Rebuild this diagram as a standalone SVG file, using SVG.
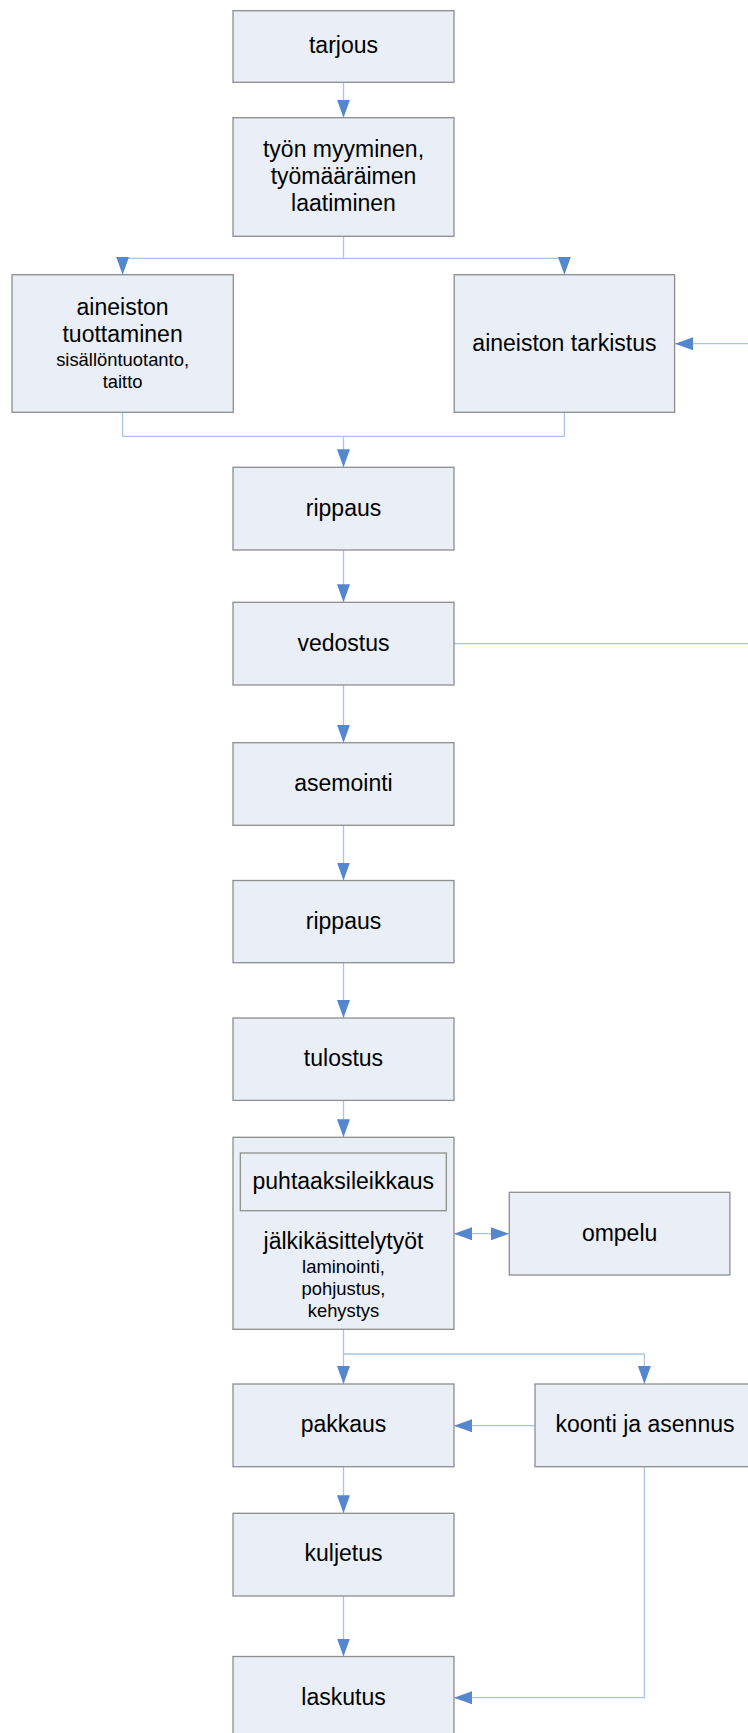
<svg xmlns="http://www.w3.org/2000/svg" width="748" height="1733" viewBox="0 0 748 1733">
<style>
.box{fill:#E9EEF7;stroke:#8E8E8E;stroke-width:1.3}
.t{font-family:"Liberation Sans",Arial,sans-serif;font-size:23px;fill:#000;text-anchor:middle}
.s{font-family:"Liberation Sans",Arial,sans-serif;font-size:18.4px;fill:#000;text-anchor:middle}
.c{fill:none;stroke:#A9C4EA;stroke-width:1.3}
.a{marker-end:url(#ah)}
</style>
<defs>
<marker id="ah" markerWidth="19" markerHeight="14" refX="18" refY="7" orient="auto-start-reverse" markerUnits="userSpaceOnUse">
<path d="M0,0.5 L18,7 L0,13.5 Z" fill="#5587CE"/>
</marker>
</defs>
<rect width="748" height="1733" fill="#fff"/>
<g id="connectors">
<path class="c a" d="M343.5,82.3 V117.7"/>
<path class="c" d="M343.5,236.3 V258.3 M122.6,258.3 H564.4"/>
<path class="c a" d="M122.6,258.3 V274.7"/>
<path class="c a" d="M564.4,258.3 V274.7"/>
<path class="c a" d="M748,343.7 H675"/>
<path class="c" d="M122.6,412.3 V436.3 H564.4 V412.3"/>
<path class="c a" d="M343.5,436.3 V467.3"/>
<path class="c a" d="M343.5,550 V602.3"/>
<path class="c" d="M454,643.7 H748"/>
<path class="c a" d="M343.5,685 V742.7"/>
<path class="c a" d="M343.5,825.3 V880.5"/>
<path class="c a" d="M343.5,962.7 V1018"/>
<path class="c a" d="M343.5,1100.4 V1137.3"/>
<path class="c" d="M454,1233.7 H509" style="marker-start:url(#ah);marker-end:url(#ah)"/>
<path class="c" d="M343.5,1329.3 V1354 H644.4"/>
<path class="c a" d="M343.5,1354 V1384"/>
<path class="c a" d="M644.4,1354 V1384"/>
<path class="c a" d="M535,1425.7 H454"/>
<path class="c a" d="M343.5,1466.7 V1513.3"/>
<path class="c a" d="M343.5,1596 V1656.5"/>
<path class="c a" d="M644.4,1466.7 V1697.7 H454"/>
</g>
<g id="n-tarjous">
<rect class="box" x="233" y="10.7" width="221" height="71.6"/>
<text class="t" x="343.5" y="53.3">tarjous</text>
</g>
<g id="n-tyon">
<rect class="box" x="233" y="117.7" width="221" height="118.6"/>
<text class="t" x="343.5" y="156.7">työn myyminen,</text>
<text class="t" x="343.5" y="183.7">työmääräimen</text>
<text class="t" x="343.5" y="210.7">laatiminen</text>
</g>
<g id="n-tuottaminen">
<rect class="box" x="12" y="274.7" width="221.3" height="137.6"/>
<text class="t" x="122.6" y="315">aineiston</text>
<text class="t" x="122.6" y="342">tuottaminen</text>
<text class="s" x="122.6" y="366">sisällöntuotanto,</text>
<text class="s" x="122.6" y="387.7">taitto</text>
</g>
<g id="n-tarkistus">
<rect class="box" x="454.2" y="274.7" width="220.4" height="137.6"/>
<text class="t" x="564.4" y="350.7">aineiston tarkistus</text>
</g>
<g id="n-rippaus1">
<rect class="box" x="233" y="467.3" width="221" height="82.7"/>
<text class="t" x="343.5" y="516">rippaus</text>
</g>
<g id="n-vedostus">
<rect class="box" x="233" y="602.3" width="221" height="82.7"/>
<text class="t" x="343.5" y="650.5">vedostus</text>
</g>
<g id="n-asemointi">
<rect class="box" x="233" y="742.7" width="221" height="82.6"/>
<text class="t" x="343.5" y="790.8">asemointi</text>
</g>
<g id="n-rippaus2">
<rect class="box" x="233" y="880.5" width="221" height="82.2"/>
<text class="t" x="343.5" y="928.6">rippaus</text>
</g>
<g id="n-tulostus">
<rect class="box" x="233" y="1018" width="221" height="82.4"/>
<text class="t" x="343.5" y="1066">tulostus</text>
</g>
<g id="n-jalki">
<rect class="box" x="233" y="1137.3" width="221" height="192"/>
<rect class="box" x="240.3" y="1153" width="206" height="57.7"/>
<text class="t" x="343.3" y="1188.5">puhtaaksileikkaus</text>
<text class="t" x="343.5" y="1249">jälkikäsittelytyöt</text>
<text class="s" x="343.5" y="1272.7">laminointi,</text>
<text class="s" x="343.5" y="1294.7">pohjustus,</text>
<text class="s" x="343.5" y="1316.5">kehystys</text>
</g>
<g id="n-ompelu">
<rect class="box" x="509.3" y="1192.3" width="220.6" height="82.7"/>
<text class="t" x="619.6" y="1240.7">ompelu</text>
</g>
<g id="n-pakkaus">
<rect class="box" x="233" y="1384" width="221" height="82.7"/>
<text class="t" x="343.5" y="1432.2">pakkaus</text>
</g>
<g id="n-koonti">
<rect class="box" x="535" y="1384" width="221" height="82.7"/>
<text class="t" x="645" y="1432.2">koonti ja asennus</text>
</g>
<g id="n-kuljetus">
<rect class="box" x="233" y="1513.3" width="221" height="82.7"/>
<text class="t" x="343.5" y="1561">kuljetus</text>
</g>
<g id="n-laskutus">
<rect class="box" x="233" y="1656.5" width="221" height="90"/>
<text class="t" x="343.5" y="1704.7">laskutus</text>
</g>
</svg>
